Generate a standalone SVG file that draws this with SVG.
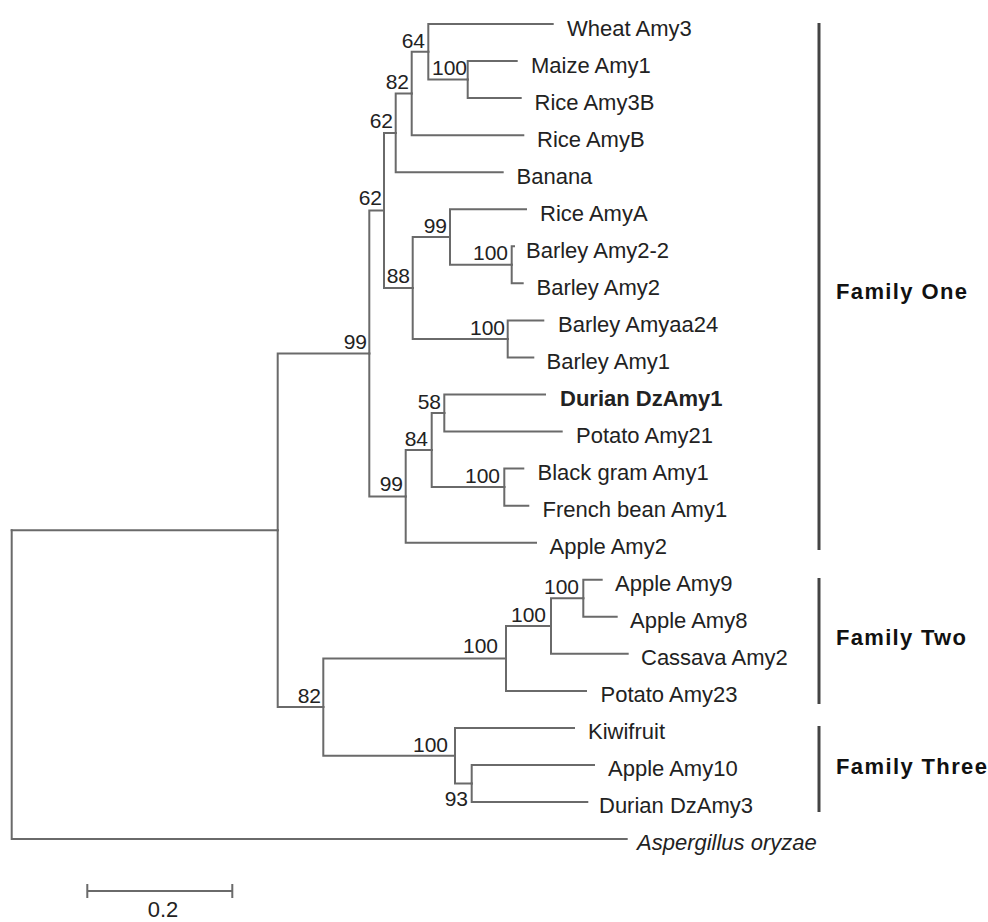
<svg xmlns="http://www.w3.org/2000/svg" width="988" height="922" viewBox="0 0 988 922">
<style>
.e{fill:none;stroke:#6a6a6a;stroke-width:2;stroke-linecap:square}
.lab{font-family:"Liberation Sans",Arial,sans-serif;font-size:22px;fill:#222}
.bs{font-family:"Liberation Sans",Arial,sans-serif;font-size:21px;fill:#222;text-anchor:end}
.fam{font-family:"Liberation Sans",Arial,sans-serif;font-size:22px;font-weight:bold;fill:#111}
.bar{stroke:#444;stroke-width:3}
</style>
<rect width="988" height="922" fill="#fff"/>
<g id="connectors">
<!-- root -->
<path class="e" d="M11.7,530.2 H277.7"/>
<path class="e" d="M11.7,530.2 V839.1 H626.7"/>
<!-- U -->
<path class="e" d="M277.7,530.2 V353.4 H369.3"/>
<path class="e" d="M277.7,530.2 V707.1 H323.3"/>
<!-- N 99 big -->
<path class="e" d="M369.3,353.4 V210.4 H384"/>
<path class="e" d="M369.3,353.4 V496.4 H405.7"/>
<!-- I 62 lower -->
<path class="e" d="M384,210.4 V132.9 H395.7"/>
<path class="e" d="M384,210.4 V288 H412.7"/>
<!-- D 62 upper -->
<path class="e" d="M395.7,132.9 V93.5 H411.7"/>
<path class="e" d="M395.7,132.9 V172.2 H502.7"/>
<!-- C 82 -->
<path class="e" d="M411.7,93.5 V51.8 H428.3"/>
<path class="e" d="M411.7,93.5 V135.15 H523.3"/>
<!-- B 64 -->
<path class="e" d="M428.3,51.8 V24 H552.7"/>
<path class="e" d="M428.3,51.8 V79.6 H467.7"/>
<!-- A 100 -->
<path class="e" d="M467.7,79.6 V61.05 H516.7"/>
<path class="e" d="M467.7,79.6 V98.1 H520.7"/>
<!-- H 88 -->
<path class="e" d="M412.7,288 V237 H450"/>
<path class="e" d="M412.7,288 V338.9 H507.7"/>
<!-- F 99 small -->
<path class="e" d="M450,237 V209.25 H526"/>
<path class="e" d="M450,237 V264.8 H511.7"/>
<!-- E 100 -->
<path class="e" d="M511.7,264.8 V246.3 H514"/>
<path class="e" d="M511.7,264.8 V283.35 H522.7"/>
<!-- G 100 -->
<path class="e" d="M507.7,338.9 V320.4 H543.3"/>
<path class="e" d="M507.7,338.9 V357.45 H533.3"/>
<!-- M 99 lower -->
<path class="e" d="M405.7,496.4 V450 H431.7"/>
<path class="e" d="M405.7,496.4 V542.7 H536"/>
<!-- L 84 -->
<path class="e" d="M431.7,450 V413 H444.3"/>
<path class="e" d="M431.7,450 V487.1 H504.3"/>
<!-- J 58 -->
<path class="e" d="M444.3,413 V394.5 H545"/>
<path class="e" d="M444.3,413 V431.55 H561.7"/>
<!-- K 100 -->
<path class="e" d="M504.3,487.1 V468.6 H523.3"/>
<path class="e" d="M504.3,487.1 V505.65 H528.3"/>
<!-- T 82 lower -->
<path class="e" d="M323.3,707.1 V658.5 H506"/>
<path class="e" d="M323.3,707.1 V755.7 H455"/>
<!-- Q 100 fam2 -->
<path class="e" d="M506,658.5 V626 H551"/>
<path class="e" d="M506,658.5 V690.9 H586"/>
<!-- P 100 -->
<path class="e" d="M551,626 V598.3 H583.3"/>
<path class="e" d="M551,626 V653.85 H627.7"/>
<!-- O 100 -->
<path class="e" d="M583.3,598.3 V579.75 H601.7"/>
<path class="e" d="M583.3,598.3 V616.8 H616.7"/>
<!-- S 100 fam3 -->
<path class="e" d="M455,755.7 V727.95 H574"/>
<path class="e" d="M455,755.7 V783.5 H471.7"/>
<!-- R 93 -->
<path class="e" d="M471.7,783.5 V765 H594"/>
<path class="e" d="M471.7,783.5 V802.05 H587.3"/>
</g>
<g id="internal-nodes">
<g id="n64"><text class="bs" x="425" y="48">64</text></g>
<g id="n100a"><text class="bs" x="467" y="75">100</text></g>
<g id="n82a"><text class="bs" x="409" y="89">82</text></g>
<g id="n62a"><text class="bs" x="393" y="128">62</text></g>
<g id="n62b"><text class="bs" x="382" y="205">62</text></g>
<g id="n99a"><text class="bs" x="447" y="233">99</text></g>
<g id="n100b"><text class="bs" x="508" y="260">100</text></g>
<g id="n88"><text class="bs" x="410" y="283">88</text></g>
<g id="n100c"><text class="bs" x="505" y="335">100</text></g>
<g id="n99b"><text class="bs" x="367" y="349">99</text></g>
<g id="n58"><text class="bs" x="441" y="409">58</text></g>
<g id="n84"><text class="bs" x="428" y="446">84</text></g>
<g id="n100d"><text class="bs" x="500" y="483">100</text></g>
<g id="n99c"><text class="bs" x="403" y="491">99</text></g>
<g id="n100e"><text class="bs" x="579" y="594">100</text></g>
<g id="n100f"><text class="bs" x="546" y="622">100</text></g>
<g id="n100g"><text class="bs" x="498" y="653">100</text></g>
<g id="n82b"><text class="bs" x="321" y="703">82</text></g>
<g id="n100h"><text class="bs" x="448" y="752">100</text></g>
<g id="n93"><text class="bs" x="468" y="806">93</text></g>
</g>
<g id="leaves">
<g id="leaf-wheat-amy3"><text class="lab" x="567" y="36">Wheat Amy3</text></g>
<g id="leaf-maize-amy1"><text class="lab" x="531" y="73">Maize Amy1</text></g>
<g id="leaf-rice-amy3b"><text class="lab" x="534.5" y="110">Rice Amy3B</text></g>
<g id="leaf-rice-amyb"><text class="lab" x="537" y="147">Rice AmyB</text></g>
<g id="leaf-banana"><text class="lab" x="516.5" y="184">Banana</text></g>
<g id="leaf-rice-amya"><text class="lab" x="540" y="221">Rice AmyA</text></g>
<g id="leaf-barley-amy2-2"><text class="lab" x="526" y="258">Barley Amy2-2</text></g>
<g id="leaf-barley-amy2"><text class="lab" x="536.5" y="295">Barley Amy2</text></g>
<g id="leaf-barley-amyaa24"><text class="lab" x="558" y="332">Barley Amyaa24</text></g>
<g id="leaf-barley-amy1"><text class="lab" x="546.5" y="369">Barley Amy1</text></g>
<g id="leaf-durian-dzamy1"><text class="lab" x="560" y="406" font-weight="bold">Durian DzAmy1</text></g>
<g id="leaf-potato-amy21"><text class="lab" x="576" y="443">Potato Amy21</text></g>
<g id="leaf-black-gram-amy1"><text class="lab" x="537.5" y="480">Black gram Amy1</text></g>
<g id="leaf-french-bean-amy1"><text class="lab" x="542.5" y="517">French bean Amy1</text></g>
<g id="leaf-apple-amy2"><text class="lab" x="549.5" y="554">Apple Amy2</text></g>
<g id="leaf-apple-amy9"><text class="lab" x="615" y="591">Apple Amy9</text></g>
<g id="leaf-apple-amy8"><text class="lab" x="630" y="628">Apple Amy8</text></g>
<g id="leaf-cassava-amy2"><text class="lab" x="641" y="665">Cassava Amy2</text></g>
<g id="leaf-potato-amy23"><text class="lab" x="600.5" y="702">Potato Amy23</text></g>
<g id="leaf-kiwifruit"><text class="lab" x="588" y="739">Kiwifruit</text></g>
<g id="leaf-apple-amy10"><text class="lab" x="608" y="776">Apple Amy10</text></g>
<g id="leaf-durian-dzamy3"><text class="lab" x="599" y="813">Durian DzAmy3</text></g>
<g id="leaf-aspergillus"><text class="lab" x="637" y="850" font-style="italic">Aspergillus oryzae</text></g>
</g>
<g id="families">
<g id="family-one"><line class="bar" x1="819" y1="23" x2="819" y2="550"/><text class="fam" x="836" y="299" textLength="131" lengthAdjust="spacing">Family One</text></g>
<g id="family-two"><line class="bar" x1="819" y1="578" x2="819" y2="704"/><text class="fam" x="836" y="645" textLength="130" lengthAdjust="spacing">Family Two</text></g>
<g id="family-three"><line class="bar" x1="819" y1="726" x2="819" y2="812"/><text class="fam" x="836" y="774" textLength="151" lengthAdjust="spacing">Family Three</text></g>
</g>
<g id="scale-bar">
<path class="e" d="M87.3,891 H232.3 M87.3,885 V897 M232.3,885 V897"/>
<text class="lab" x="163" y="917" text-anchor="middle">0.2</text>
</g>
</svg>
